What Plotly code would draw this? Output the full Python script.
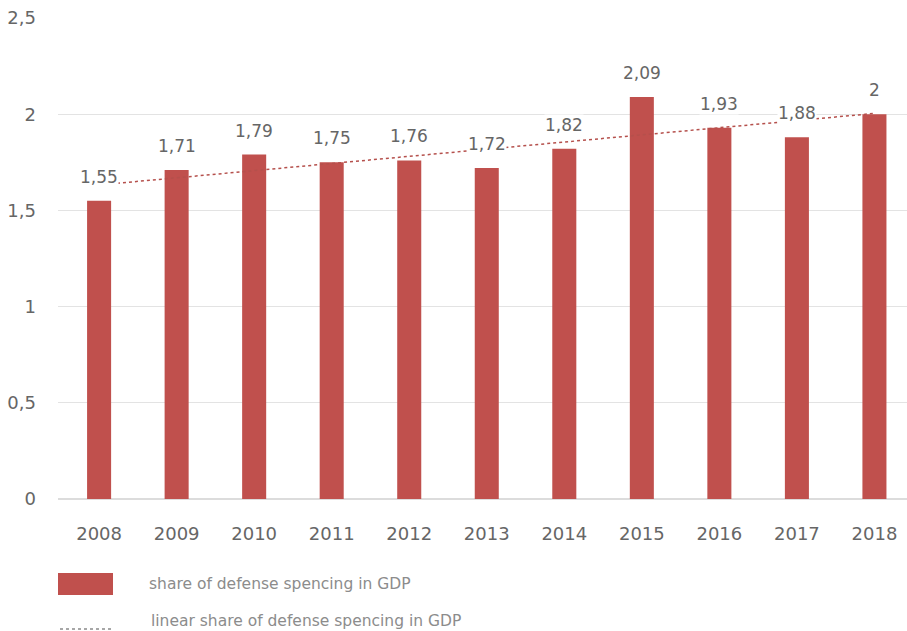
import numpy as np
import plotly.graph_objects as go

years = ["2008", "2009", "2010", "2011", "2012", "2013", "2014", "2015", "2016", "2017", "2018"]
share = [1.55, 1.71, 1.79, 1.75, 1.76, 1.72, 1.82, 2.09, 1.93, 1.88, 2.00]
y_ticks = [0, 0.5, 1, 1.5, 2, 2.5]
legend_labels = ["share of defense spencing in GDP", "linear share of defense spencing in GDP"]

BAR = "#C0504D"
W, H = 907, 631
ML, MR, MT, MB = 58, 0, 18, 132
TXT = "#666666"

xi = np.arange(len(years))
coef = np.polyfit(xi, share, 1)
trend = np.polyval(coef, xi)

fig = go.Figure()
fig.add_trace(go.Bar(x=xi, y=share, width=0.31, marker=dict(color=BAR, line=dict(width=0)),
                     showlegend=False, hoverinfo="skip"))
fig.add_trace(go.Scatter(x=xi, y=trend, mode="lines",
                         line=dict(color="#b5504c", width=1.5, dash="dot"), showlegend=False))

def fmt(v):
    s = f"{v:.2f}".rstrip("0").rstrip(".")
    return s.replace(".", ",")

for x, v in zip(xi, share):
    fig.add_annotation(x=x, y=v, text=fmt(v), showarrow=False, yshift=24, yanchor="middle",
                       font=dict(family="DejaVu Sans", size=17, color=TXT), bgcolor="white",
                       borderpad=0)

# manual legend (pixel -> paper coordinates)
pw, ph = W - ML - MR, H - MT - MB
def px(x): return (x - ML) / pw
def py(y): return (H - MB - y) / ph

fig.add_shape(type="rect", xref="paper", yref="paper", x0=px(58), x1=px(113), y0=py(573), y1=py(595),
              fillcolor=BAR, line=dict(width=0))
fig.add_shape(type="line", xref="paper", yref="paper", x0=px(60), x1=px(112), y0=py(629), y1=py(629),
              line=dict(color="#8a8a8a", width=1.5, dash="dot"))
fig.add_annotation(xref="paper", yref="paper", x=px(147), y=py(584), text=legend_labels[0], showarrow=False,
                   xanchor="left", yanchor="middle", font=dict(family="DejaVu Sans", size=15.5, color="#8c8c8c"))
fig.add_annotation(xref="paper", yref="paper", x=px(149), y=py(621), text=legend_labels[1], showarrow=False,
                   xanchor="left", yanchor="middle", font=dict(family="DejaVu Sans", size=15.5, color="#8c8c8c"))

fig.update_layout(
    width=W, height=H, margin=dict(l=ML, r=MR, t=MT, b=MB),
    plot_bgcolor="white", paper_bgcolor="white", separators=", ",
    showlegend=False,
    xaxis=dict(range=[-0.53, 10.42], tickmode="array", tickvals=xi, ticktext=years,
               showgrid=False, zeroline=False, showline=False, ticks="",
               ticklabelstandoff=22,
               tickfont=dict(family="DejaVu Sans", size=18, color=TXT)),
    yaxis=dict(range=[0, 2.5], tickmode="array", tickvals=y_ticks,
               showgrid=True, gridcolor="#e3e3e3", gridwidth=1, zeroline=True, zerolinecolor="#dcdcdc",
               showline=False, ticks="", ticklabelstandoff=21,
               tickfont=dict(family="DejaVu Sans", size=18, color=TXT)),
)

fig.write_html("out.html")
